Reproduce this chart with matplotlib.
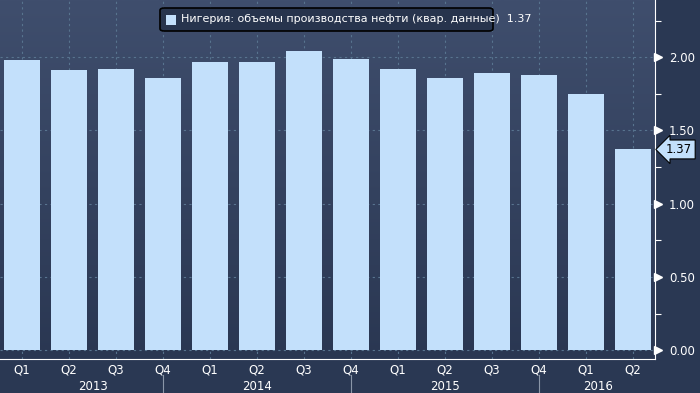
import matplotlib
matplotlib.use("Agg")
import matplotlib.pyplot as plt
import matplotlib.transforms as mtransforms
import numpy as np
from matplotlib.patches import FancyBboxPatch
from matplotlib.colors import LinearSegmentedColormap

# данные
quarters = ["Q1", "Q2", "Q3", "Q4"] * 3 + ["Q1", "Q2"]
years = ["2013", "2014", "2015", "2016"]
values = [1.98, 1.91, 1.92, 1.86, 1.97, 1.97, 2.04, 1.99,
          1.92, 1.86, 1.89, 1.88, 1.75, 1.37]
legend_label = "Нигерия: объемы производства нефти (квар. данные)  1.37"

bar_color = "#c3e0fb"
grid_color = "#58748f"

fig = plt.figure(figsize=(7, 3.93), dpi=100)
fig.patch.set_facecolor("#2a3853")
ax = fig.add_axes([0, 34 / 393, 655 / 700, 359 / 393])

x = np.arange(len(values))
ax.set_xlim(-0.47, 13.47)
ax.set_ylim(-0.06, 2.39)

# фон-градиент
grad = np.linspace(0, 1, 256).reshape(-1, 1)
cmap = LinearSegmentedColormap.from_list("bg", ["#2a3752", "#3f4e6d"])
ax.imshow(grad, extent=[-0.47, 13.47, -0.06, 2.39], origin="lower",
          aspect="auto", cmap=cmap, zorder=0)

# сетка
for xi in x:
    ax.axvline(xi, color=grid_color, ls=(0, (2, 3)), lw=0.8, zorder=1)
for yv in [0, 0.5, 1.0, 1.5, 2.0]:
    ax.axhline(yv, color=grid_color, ls=(0, (2, 3)), lw=0.8, zorder=1)

ax.bar(x, values, width=0.77, color=bar_color, zorder=2)

# оси
for s in ["top", "left"]:
    ax.spines[s].set_visible(False)
ax.spines["bottom"].set_color("white")
ax.spines["right"].set_color("white")
ax.yaxis.tick_right()
ax.set_yticks([0, 0.5, 1.0, 1.5, 2.0])
ax.set_yticklabels(["0.00", "0.50", "1.00", "1.50", "2.00"])
ax.set_yticks([0.25, 0.75, 1.25, 1.75, 2.25], minor=True)
ax.tick_params(axis="y", which="major", colors="white", length=0, pad=10, labelsize=8.5)
ax.tick_params(axis="y", which="minor", colors="white", length=4, width=0.8)
ax.set_xticks(x)
ax.set_xticklabels(quarters)
ax.tick_params(axis="x", colors="white", length=0, pad=3, labelsize=8.5)

# треугольники у делений справа (снаружи оси)
shift = mtransforms.ScaledTranslation(3 / 100, 0, fig.dpi_scale_trans)
for yv in [0, 0.5, 1.0, 1.5, 2.0]:
    ax.plot([13.47], [yv], marker=">", color="white", markersize=5.5,
            clip_on=False, zorder=5, transform=ax.transData + shift)

# метка последнего значения
y0 = values[-1]
ax.annotate(f"{y0:.2f}", xy=(1, y0), xycoords=("axes fraction", "data"),
            xytext=(8, 0), textcoords="offset points", ha="left", va="center",
            fontsize=8.5, color="black",
            bbox=dict(boxstyle="larrow,pad=0.25", fc=bar_color, ec="black", lw=0.8))

# годы
year_pos = [1.5, 5, 9, 12.25]
for yp, yl in zip(year_pos, years):
    ax.text(yp, -0.245, yl, ha="center", va="center", color="white",
            fontsize=8.5, clip_on=False)
for sp in [3, 7, 11]:
    ax.plot([sp, sp], [-0.17, -0.32], color="#8a96a8", lw=0.8, clip_on=False)

# легенда
leg = FancyBboxPatch((160 / 700, 1 - 31 / 393), 333 / 700, 23 / 393,
                     boxstyle="round,pad=0,rounding_size=0.006",
                     transform=fig.transFigure, fc="#27344d", ec="black",
                     lw=1.2, zorder=10)
fig.patches.append(leg)
fig.patches.append(plt.Rectangle((166 / 700, 1 - 25 / 393), 10 / 700, 10 / 393,
                                 transform=fig.transFigure, fc=bar_color, zorder=11))
fig.text(181 / 700, 1 - 19.5 / 393, legend_label, color="white", fontsize=8,
         va="center", ha="left", zorder=12)

fig.savefig("out.png", dpi=100, facecolor=fig.get_facecolor())
